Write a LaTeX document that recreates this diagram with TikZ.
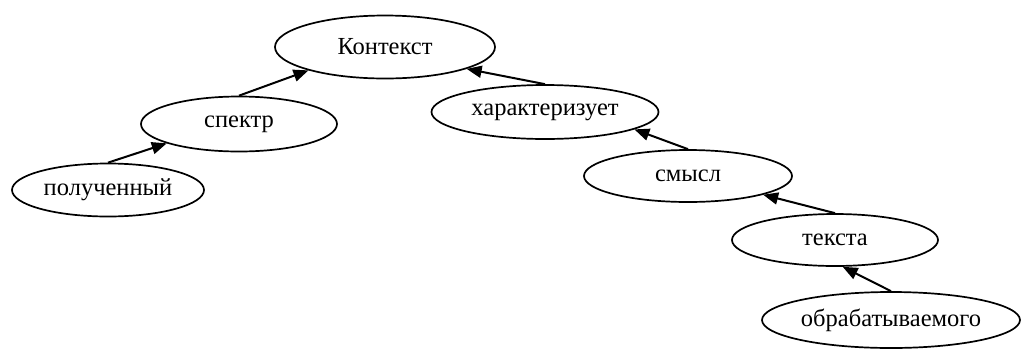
\documentclass[tikz,border=0pt]{standalone}
\usepackage{fontspec}
\setmainfont{Liberation Serif}
\usetikzlibrary{shapes.geometric,arrows.meta}
\tikzset{
  word/.style={draw, ellipse, line width=1.7pt, inner sep=0pt, font=\fontsize{24.5}{28}\selectfont},
  link/.style={line width=2pt, -{Triangle[length=15pt,width=12pt]}}
}
\begin{document}
\begin{tikzpicture}[x=1pt,y=-1pt]
\useasboundingbox (0,0) rectangle (1021,349);
\node[word, minimum width=220pt, minimum height=63pt] (ctx) at (385,47) {Контекст};
\node[word, minimum width=196pt, minimum height=55pt] (spec) at (239,124) {спектр};
\node[word, minimum width=192pt, minimum height=53pt] (poluch) at (108,190) {полученный};
\node[word, minimum width=227pt, minimum height=54pt] (char) at (545,112) {характеризует};
\node[word, minimum width=208pt, minimum height=52pt] (smysl) at (688,176) {смысл};
\node[word, minimum width=206pt, minimum height=52pt] (teksta) at (835,240) {текста};
\node[word, minimum width=258pt, minimum height=56pt] (obrab) at (891,320) {обрабатываемого};
\draw[link] (spec.north) -- (ctx.197);
\draw[link] (poluch.north) -- (spec.195);
\draw[link] (char.north) -- (ctx.345);
\draw[link] (smysl.north) -- (char.349);
\draw[link] (teksta.north) -- (smysl.346);
\draw[link] (obrab.north) -- (teksta.286);
\end{tikzpicture}
\end{document}
